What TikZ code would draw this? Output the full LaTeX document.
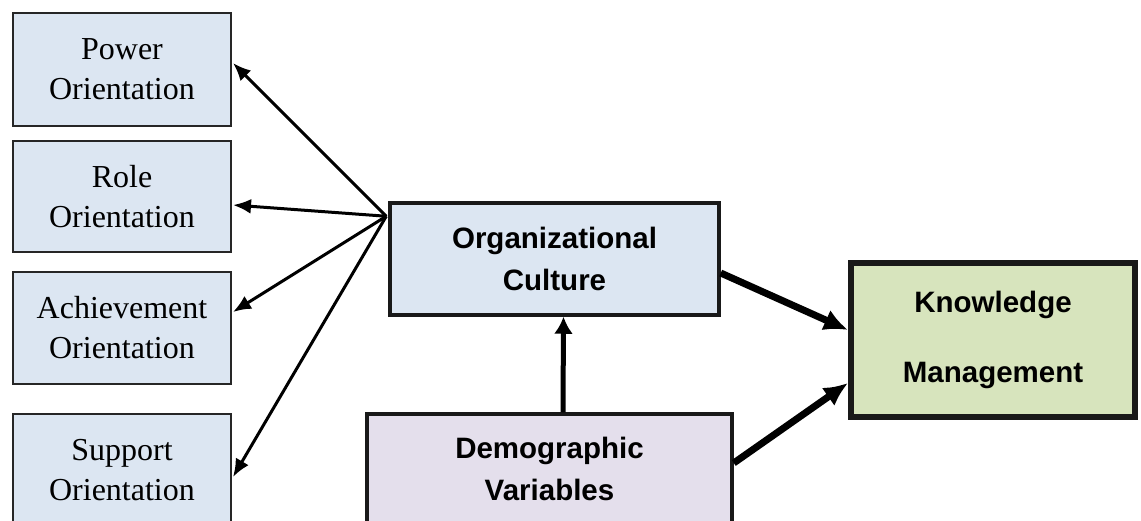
\documentclass[tikz,border=0pt]{standalone}
\usepackage{fontspec}
\setmainfont{Liberation Serif}
\setsansfont{Liberation Sans}
\usetikzlibrary{arrows.meta,calc}
\definecolor{bluefill}{HTML}{DCE6F2}
\definecolor{purplefill}{HTML}{E4DFEC}
\definecolor{greenfill}{HTML}{D7E4BD}
\tikzset{
  dimbox/.style={draw=black!85, line width=2pt, fill=bluefill, minimum width=218pt, align=center,
     font=\fontsize{32}{40}\selectfont, inner sep=0pt},
  mainbox/.style={draw=black!90, line width=3.5pt, align=center, inner sep=0pt,
     font=\sffamily\bfseries\fontsize{29.5}{42}\selectfont},
  thinarrow/.style={line width=3pt, -{Latex[length=18pt,width=15pt]}},
  thickarrow/.style={line width=7pt, -{Latex[length=24pt,width=22pt]}},
  uparrow/.style={line width=5pt, -{Latex[length=17pt,width=19pt]}},
}
\begin{document}
\begin{tikzpicture}[x=1pt,y=-1pt]
\useasboundingbox (0,0) rectangle (1141,520);
\clip (0,0) rectangle (1141,520);
\node[dimbox, minimum height=113pt] (power) at (122,69.5) {Power\\Orientation};
\node[dimbox, minimum height=111pt] (role) at (122,196.5) {Role\\Orientation};
\node[dimbox, minimum height=112pt] (achieve) at (122,328) {Achievement\\Orientation};
\node[dimbox, minimum height=112pt] (support) at (122,470) {Support\\Orientation};
\node[mainbox, fill=bluefill, minimum width=329pt, minimum height=112pt] (org) at (554.5,259) {Organizational\\Culture};
\node[mainbox, fill=purplefill, minimum width=365pt, minimum height=110pt] (demo) at (549.5,469) {Demographic\\Variables};
\node[mainbox, fill=greenfill, line width=6pt, minimum width=284pt, minimum height=154pt,
      font=\sffamily\bfseries\fontsize{29.5}{70}\selectfont] (km) at (993,340) {Knowledge\\Management};
\coordinate (hub) at ($(org.north west)+(-2,15)$);
\draw[thinarrow] (hub) -- ($(power.east)+(1,-6.5)$);
\draw[thinarrow] (hub) -- ($(role.east)+(1,8.5)$);
\draw[thinarrow] (hub) -- ($(achieve.east)+(1,-16)$);
\draw[thinarrow] (hub) -- ($(support.east)+(1,7)$);
\draw[uparrow] ($(demo.north)+(13.5,0)$) -- ($(org.south)+(9,0)$);
\draw[thickarrow] ($(org.east)+(0,14)$) -- ($(km.west)+(0,-10)$);
\draw[thickarrow] ($(demo.east)+(0,-6)$) -- ($(km.west)+(0,43)$);
\end{tikzpicture}
\end{document}
